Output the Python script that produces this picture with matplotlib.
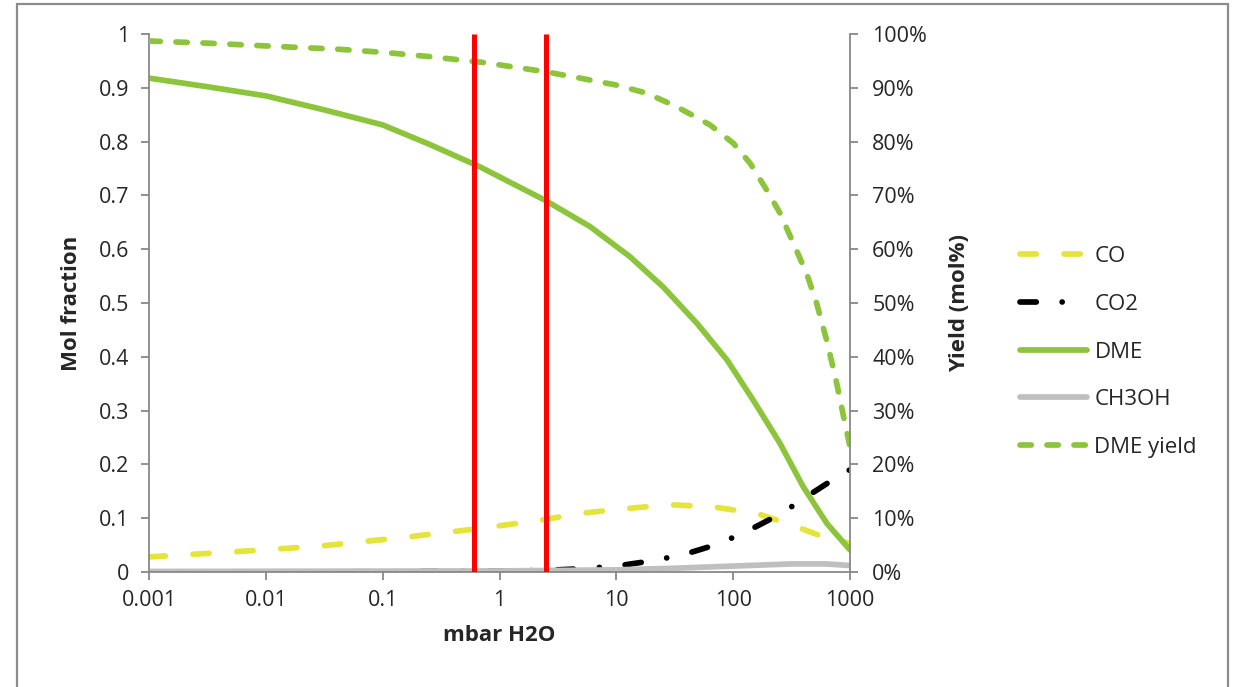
import numpy as np
import matplotlib
matplotlib.use('Agg')
import matplotlib.pyplot as plt
from matplotlib.patches import Rectangle
from matplotlib.ticker import FixedLocator, FuncFormatter, NullLocator

plt.rcParams['font.family'] = ['Open Sans', 'DejaVu Sans']

# valeurs (x en log10 de mbar H2O)
dme_logx = [-3, -2.5, -2, -1.5, -1, -0.6, -0.167, 0.39, 0.775, 1.117, 1.4, 1.691, 1.948,
            2.17, 2.401, 2.598, 2.803, 3.0]
dme = [0.918, 0.902, 0.885, 0.859, 0.831, 0.795, 0.753, 0.691, 0.642, 0.586, 0.530, 0.462,
       0.394, 0.320, 0.239, 0.159, 0.090, 0.041]

yield_logx = [-3, -2.5, -1.82, -1.4, -1, -0.6, -0.138, 0.39, 0.689, 1.003, 1.259, 1.516, 1.802,
              2.001, 2.144, 2.287, 2.401, 2.515, 2.629, 2.715, 2.8, 2.886, 2.957, 3.0]
dme_yield = [0.987, 0.983, 0.976, 0.972, 0.966, 0.958, 0.947, 0.930, 0.918, 0.905, 0.890, 0.865,
             0.831, 0.797, 0.760, 0.710, 0.667, 0.611, 0.555, 0.499, 0.431, 0.351, 0.276, 0.233]

co_logx = [-3, -2.31, -1.54, -0.79, -0.167, 0.375, 0.689, 1.089, 1.46, 1.829, 2.201, 2.543, 2.8, 3.0]
co = [0.028, 0.037, 0.048, 0.065, 0.081, 0.097, 0.109, 0.118, 0.125, 0.121, 0.109, 0.084, 0.063, 0.053]

co2_logx = [-3, -1, 0, 0.39, 0.7, 1.0, 1.344, 1.616, 1.887, 2.166, 2.414, 2.671, 2.914, 3.0]
co2 = [0.0, 0.0005, 0.002, 0.003, 0.006, 0.011, 0.022, 0.035, 0.053, 0.081, 0.109, 0.146, 0.180, 0.190]

ch3oh_logx = [-3, 0, 1, 1.5, 2, 2.5, 2.8, 3.0]
ch3oh = [0.001, 0.002, 0.004, 0.007, 0.011, 0.015, 0.015, 0.012]

red_lines = [0.6, 2.5]

xticks = [0.001, 0.01, 0.1, 1, 10, 100, 1000]
xtick_labels = ['0.001', '0.01', '0.1', '1', '10', '100', '1000']
yticks = [0, 0.1, 0.2, 0.3, 0.4, 0.5, 0.6, 0.7, 0.8, 0.9, 1.0]

green = '#8cc43c'
yellow = '#e4e43a'
gray = '#bfbfbf'
axis_gray = '#888888'
txt = '#262626'

fig = plt.figure(figsize=(12.37, 6.87), dpi=100)
fig.patches.append(Rectangle((17 / 1237, -0.2), (1228 - 17) / 1237, 1.2 - 4 / 687,
                             transform=fig.transFigure, fill=False, edgecolor='#8c8c8c', lw=1.6))

ax = fig.add_axes([149 / 1237, 1 - 572 / 687, (850 - 149) / 1237, (572 - 34) / 687])
ax2 = ax.twinx()

x = lambda lx: 10 ** np.array(lx)
lw = 4.1

l_co, = ax.plot(x(co_logx), co, color=yellow, lw=lw, dash_capstyle='round',
                linestyle=(0, (2.86, 4.86)), label='CO')
l_co2, = ax.plot(x(co2_logx), co2, color='black', lw=lw, dash_capstyle='round',
                 linestyle=(0, (2.86, 4.54, 0.01, 4.54)), label='CO2')
l_dme, = ax.plot(x(dme_logx), dme, color=green, lw=lw, solid_capstyle='round',
                 solid_joinstyle='round', label='DME')
l_meoh, = ax.plot(x(ch3oh_logx), ch3oh, color=gray, lw=lw, solid_capstyle='round', label='CH3OH')
l_yield, = ax2.plot(x(yield_logx), dme_yield, color=green, lw=lw, dash_capstyle='round',
                    linestyle=(0, (1.98, 2.76)), label='DME yield')

for r in red_lines:
    ax2.plot([r, r], [0, 1], color='#ff0000', lw=3.6, solid_capstyle='butt', zorder=5)

for a in (ax, ax2):
    a.set_xscale('log')
    a.set_xlim(0.001, 1000)
    a.set_ylim(0, 1)
    a.set_facecolor('none')
    for s in a.spines.values():
        s.set_color(axis_gray)
        s.set_linewidth(1.3)
    a.spines['top'].set_visible(False)
    a.tick_params(colors=axis_gray, labelcolor=txt, labelsize=15.5, length=6, width=1.3)

ax.spines['right'].set_visible(False)
ax2.spines['left'].set_visible(False)
ax2.spines['bottom'].set_visible(False)

ax.xaxis.set_major_locator(FixedLocator(xticks))
ax.xaxis.set_minor_locator(NullLocator())
ax.set_xticklabels(xtick_labels)
ax.set_yticks(yticks)
ax.yaxis.set_major_formatter(FuncFormatter(lambda v, p: f'{v:g}'))
ax2.set_yticks(yticks)
ax2.yaxis.set_major_formatter(FuncFormatter(lambda v, p: f'{v * 100:.0f}%'))
ax.tick_params(axis='x', pad=7)
ax.tick_params(axis='y', pad=8)
ax2.tick_params(axis='y', pad=10)

ax.set_xlabel('mbar H2O', fontsize=16, fontweight='bold', color=txt, labelpad=10)
ax.set_ylabel('Mol fraction', fontsize=16, fontweight='bold', color=txt, labelpad=12)
ax2.set_ylabel('Yield (mol%)', fontsize=16, fontweight='bold', color=txt, labelpad=16)

leg = fig.legend(handles=[l_co, l_co2, l_dme, l_meoh, l_yield], loc='center left',
                 bbox_to_anchor=(1000 / 1237, 1 - 352 / 687), frameon=False,
                 fontsize=16, handlelength=3.0, labelspacing=1.2, handletextpad=0.35)
for t in leg.get_texts():
    t.set_color(txt)

fig.savefig('out.png', dpi=100)
